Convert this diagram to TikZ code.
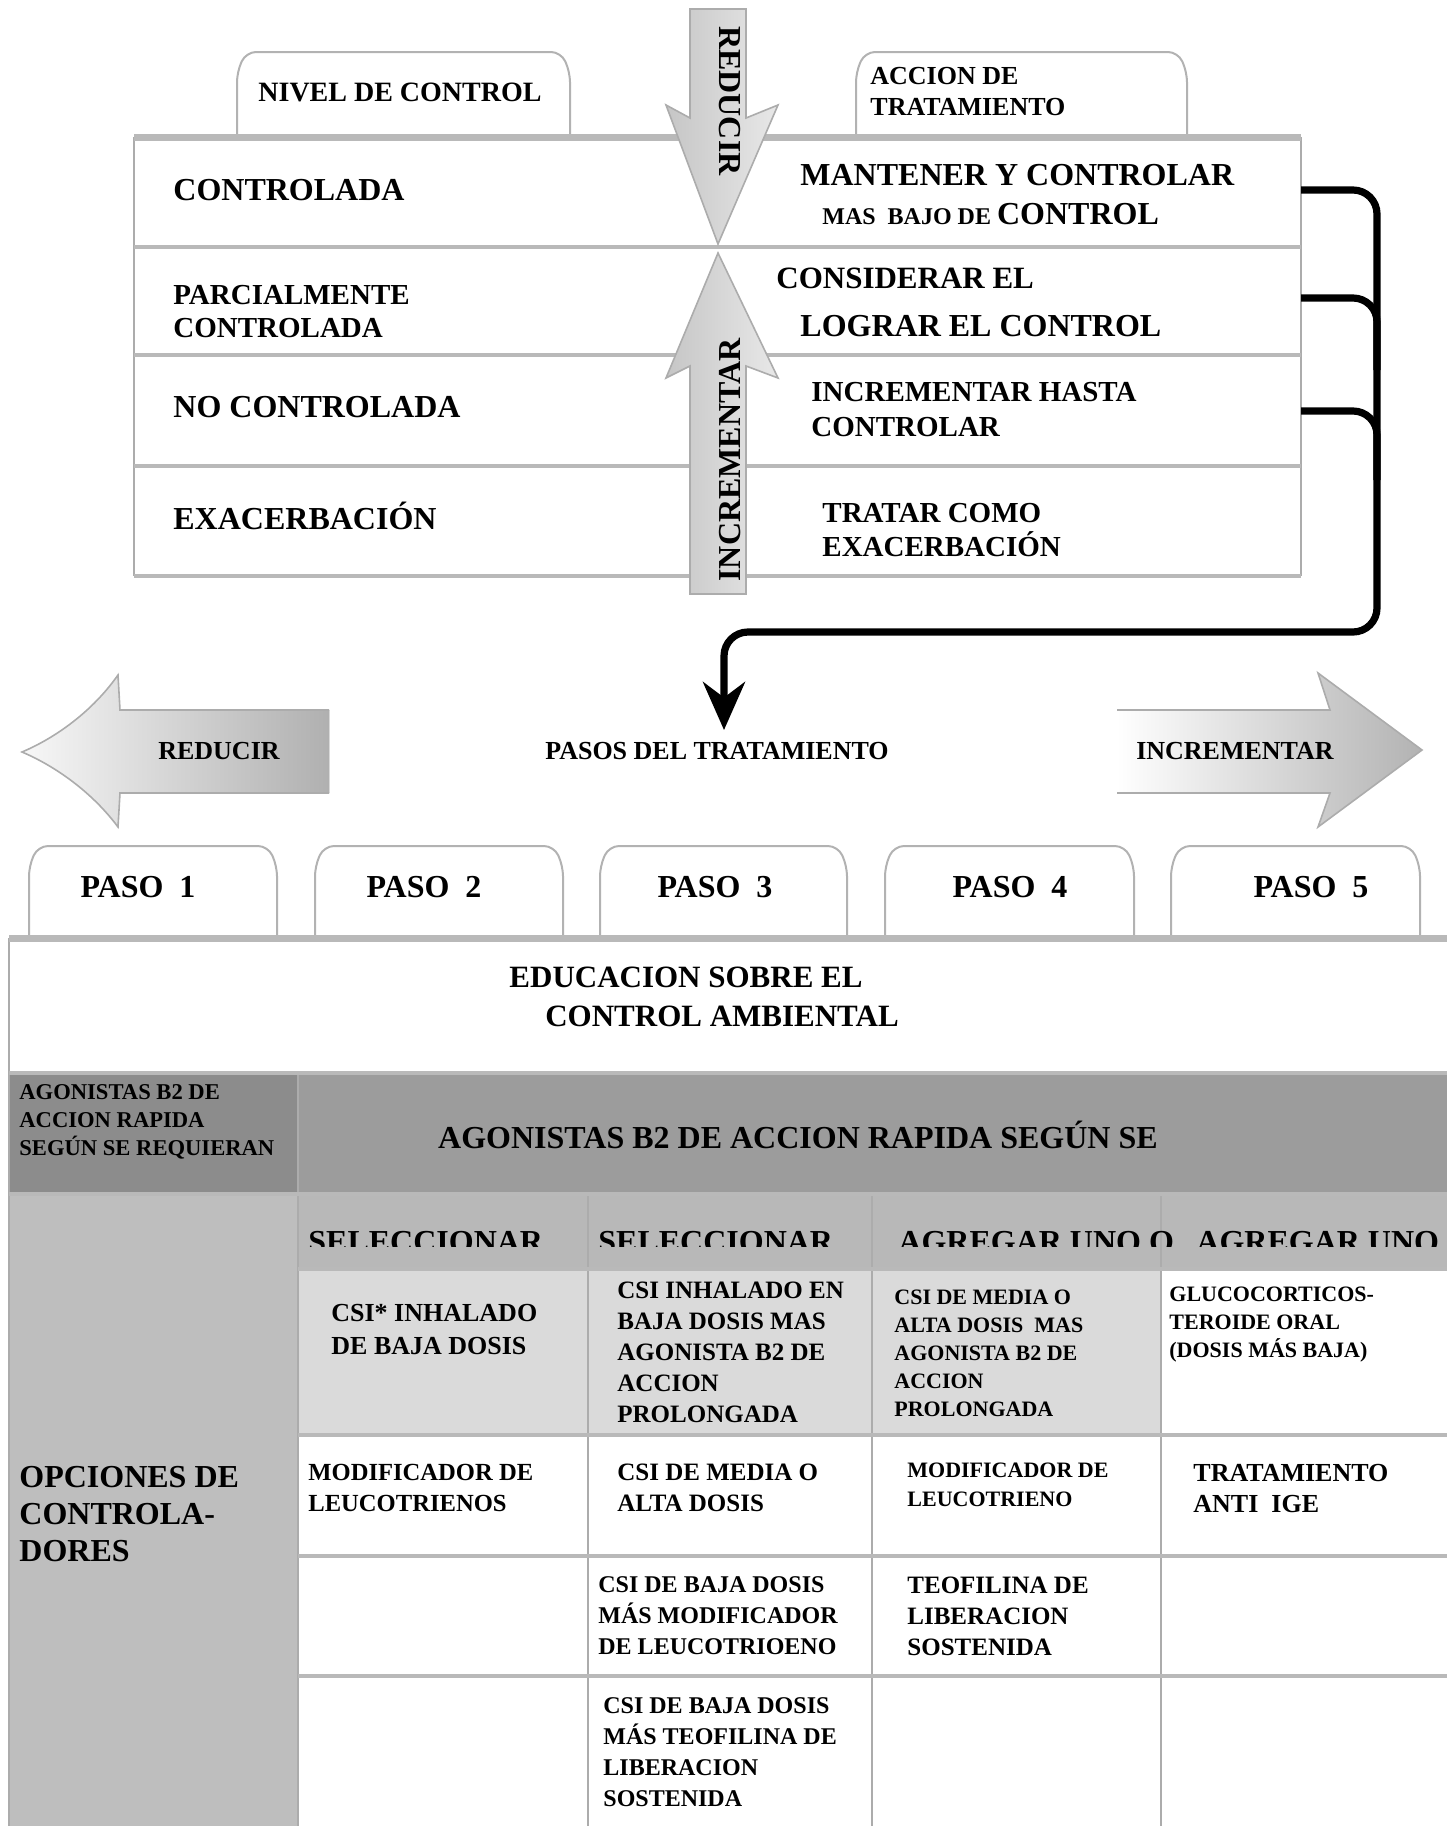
\documentclass[tikz,border=0pt]{standalone}
\usepackage{fontspec}
\setmainfont{Liberation Serif}
\usetikzlibrary{arrows.meta}
\newcommand\bfsz[2]{\bfseries\fontsize{#1}{#2}\selectfont}
\definecolor{agodark}{RGB}{140,140,140}
\definecolor{agomid}{RGB}{156,156,156}
\definecolor{opcgray}{RGB}{190,190,190}
\definecolor{selgray}{RGB}{184,184,184}
\definecolor{celllight}{RGB}{218,218,218}

\begin{document}
\begin{tikzpicture}[x=0.5pt,y=-0.5pt,
  tabline/.style={draw=gray!60, line width=1pt, rounded corners=5pt},
  rowline/.style={draw=gray!55, line width=1.8pt},
  toprow/.style={draw=gray!55, line width=3.5pt},
  colline/.style={draw=gray!65, line width=0.8pt},
  lbl/.style={anchor=west, inner sep=0pt, align=left},
  ctr/.style={inner sep=0pt, align=center},
  conn/.style={draw=black, line width=3.6pt, rounded corners=12pt},
  vband/.style={draw=gray!65, line width=0.8pt, left color=gray!45, right color=gray!18},
  ]
\useasboundingbox (0,0) rectangle (1447,1826);

% Tabs of the upper table
\draw[tabline] (237,137) -- (237,72) -- (246,52) -- (561,52) -- (570,72) -- (570,137);
\draw[tabline] (856,137) -- (856,72) -- (865,52) -- (1178,52) -- (1187,72) -- (1187,137);
\node[lbl, font=\bfsz{14}{16}] (nivel) at (258,92) {NIVEL DE CONTROL};
\node[lbl, font=\bfsz{13}{15.5}] (accion) at (870,92) {ACCION DE\\TRATAMIENTO};

% Upper table
\draw[colline] (134,137) -- (134,576);
\draw[colline] (1301,137) -- (1301,576);
\draw[toprow] (134,137) -- (1301,137);
\foreach \y in {247,355,466,576}
  \draw[rowline] (134,\y) -- (1301,\y);

% Text Node
\node[lbl, font=\bfsz{16}{19}] (ctl) at (173,190) {CONTROLADA};
\node[lbl, font=\bfsz{14.5}{16.5}] (parc) at (173,312) {PARCIALMENTE\\CONTROLADA};
\node[lbl, font=\bfsz{16}{19}] (noctl) at (173,407) {NO CONTROLADA};
\node[lbl, font=\bfsz{16}{19}] (exac) at (173,516) {EXACERBACIÓN};

\node[lbl, font=\bfsz{16}{19}] (mant) at (800,175) {MANTENER Y CONTROLAR};
\node[lbl, font=\bfsz{16}{19}] (mas) at (822,214) {{\bfsz{12}{14}MAS\ \ BAJO DE }CONTROL};
\node[lbl, font=\bfsz{15.5}{18}] (cons) at (776,278) {CONSIDERAR EL};
\node[lbl, font=\bfsz{16}{19}] (logr) at (800,326) {LOGRAR EL CONTROL};
\node[lbl, font=\bfsz{14.5}{17.5}] (incr) at (811,410) {INCREMENTAR HASTA\\CONTROLAR};
\node[lbl, font=\bfsz{14.5}{17}] (trat) at (822,530) {TRATAR COMO\\EXACERBACIÓN};

% Vertical arrows
\path[vband] (690,9) -- (690,118) -- (666,105) -- (718,244) -- (778,105) -- (746,118) -- (746,9) -- cycle;
\path[vband] (690,594) -- (690,366) -- (666,378) -- (718,253) -- (778,378) -- (746,366) -- (746,594) -- cycle;
\node[ctr, rotate=-90, font=\bfsz{16}{19}] (reduc) at (730,101) {REDUCIR};
\node[ctr, rotate=90, font=\bfsz{16}{19}] (increm) at (730,460) {INCREMENTAR};

% Connectors
\coordinate (e1) at (1301,190);
\coordinate (e2) at (1301,298);
\coordinate (e3) at (1301,411);
\coordinate (tipc) at (724,730);
\draw[conn, -{Stealth[length=24pt,width=21pt]}] (e1) -- (1377,190) -- (1377,632) -- (724,632) -- (tipc);
\draw[conn] (e2) -- (1377,298) -- (1377,370);
\draw[conn] (e3) -- (1377,411) -- (1377,480);

% Horizontal arrows
\fill[left color=gray!6, right color=gray!62] (329,710) -- (120,710) -- (118,675) .. controls (92,712) and (55,738) .. (22,752) .. controls (55,766) and (92,792) .. (118,827) -- (120,793) -- (329,793) -- cycle;
\draw[gray!65, line width=0.8pt] (329,710) -- (120,710) -- (118,675) .. controls (92,712) and (55,738) .. (22,752) .. controls (55,766) and (92,792) .. (118,827) -- (120,793) -- (329,793);
\fill[left color=white, right color=gray!60] (1117,710) -- (1330,710) -- (1318,673) -- (1422,750) -- (1318,827) -- (1330,793) -- (1117,793) -- cycle;
\draw[gray!65, line width=0.8pt] (1117,710) -- (1330,710) -- (1318,673) -- (1422,750) -- (1318,827) -- (1330,793) -- (1117,793);
\node[ctr, font=\bfsz{13}{15}] (reducl) at (219,751) {REDUCIR};
\node[ctr, font=\bfsz{13}{15}] (pasos) at (717,751) {PASOS DEL TRATAMIENTO};
\node[ctr, font=\bfsz{13}{15}] (incrr) at (1235,751) {INCREMENTAR};

% Step tabs
\foreach \a/\b/\t/\n in {29/277/138/1, 315/563/424/2, 600/847/715/3, 885/1134/1010/4, 1171/1420/1311/5} {
  \draw[tabline] (\a,938) -- (\a,866) -- (\a+9,846) -- (\b-9,846) -- (\b,866) -- (\b,938);
  \node[ctr, font=\bfsz{16}{19}] (paso\n) at (\t,887) {PASO\ \ \n};
}

% Lower table: fills
\fill[agodark] (9,1073) rectangle (298,1194);
\fill[agomid] (298,1073) rectangle (1447,1194);
\fill[opcgray] (9,1194) rectangle (298,1826);
\fill[selgray] (298,1194) rectangle (1447,1269);
\fill[celllight] (298,1269) rectangle (1161,1435);

% Lower table: lines
\draw[colline] (9,938) -- (9,1826);
\draw[colline] (298,1073) -- (298,1826);
\foreach \x in {588,872,1161}
  \draw[colline] (\x,1194) -- (\x,1826);
\draw[toprow] (9,938) -- (1447,938);
\draw[rowline] (9,1073) -- (1447,1073);
\draw[rowline] (9,1194) -- (1447,1194);
\foreach \y in {1269,1435,1556,1676}
  \draw[rowline] (298,\y) -- (1447,\y);

% Text Node
\node[ctr, font=\bfsz{15.5}{18}] (edu1) at (686,977) {EDUCACION SOBRE EL};
\node[ctr, font=\bfsz{15.5}{18}] (edu2) at (722,1016) {CONTROL AMBIENTAL};
\node[lbl, font=\bfsz{11.3}{14}] (agl) at (19,1122) {AGONISTAS B2 DE\\ACCION RAPIDA\\SEGÚN SE REQUIERAN};
\node[ctr, font=\bfsz{16}{19}] (agr) at (798,1135) {AGONISTAS B2 DE ACCION RAPIDA SEGÚN SE};
\node[lbl, font=\bfsz{16}{18.5}] (opc) at (19,1514) {OPCIONES DE\\CONTROLA-\\DORES};

\begin{scope}
  \clip (298,1194) rectangle (1447,1246);
  \node[lbl, font=\bfsz{16}{19}] (sel1) at (308,1242) {SELECCIONAR};
  \node[lbl, font=\bfsz{16}{19}] (sel2) at (598,1242) {SELECCIONAR};
  \node[lbl, font=\bfsz{16}{19}] (agr3) at (898,1242) {AGREGAR UNO O};
  \node[lbl, font=\bfsz{16}{19}] (agr4) at (1196,1242) {AGREGAR UNO};
\end{scope}

\node[lbl, font=\bfsz{13}{16.5}] (a1) at (331,1330) {CSI* INHALADO\\DE BAJA DOSIS};
\node[lbl, font=\bfsz{12.5}{15.5}] (a2) at (617,1352) {CSI INHALADO EN\\BAJA DOSIS MAS\\AGONISTA B2 DE\\ACCION\\PROLONGADA};
\node[lbl, font=\bfsz{11}{14}] (a3) at (894,1353) {CSI DE MEDIA O\\ALTA DOSIS\ \ MAS\\AGONISTA B2 DE\\ACCION\\PROLONGADA};
\node[lbl, font=\bfsz{11}{14}] (a4) at (1169,1325) {GLUCOCORTICOS-\\TEROIDE ORAL\\(DOSIS MÁS BAJA)};

\node[lbl, font=\bfsz{12.3}{15.5}] (b1) at (308,1488) {MODIFICADOR DE\\LEUCOTRIENOS};
\node[lbl, font=\bfsz{12.5}{15.5}] (b2) at (617,1488) {CSI DE MEDIA O\\ALTA DOSIS};
\node[lbl, font=\bfsz{11}{14.5}] (b3) at (907,1485) {MODIFICADOR DE\\LEUCOTRIENO};
\node[lbl, font=\bfsz{13}{15.5}] (b4) at (1193,1488) {TRATAMIENTO\\ANTI\ \ IGE};

\node[lbl, font=\bfsz{12}{15.5}] (c2) at (598,1616) {CSI DE BAJA DOSIS\\MÁS MODIFICADOR\\DE LEUCOTRIOENO};
\node[lbl, font=\bfsz{12.5}{15.5}] (c3) at (907,1616) {TEOFILINA DE\\LIBERACION\\SOSTENIDA};

\node[lbl, font=\bfsz{12}{15.5}] (d2) at (603,1752) {CSI DE BAJA DOSIS\\MÁS TEOFILINA DE\\LIBERACION\\SOSTENIDA};

\end{tikzpicture}
\end{document}
